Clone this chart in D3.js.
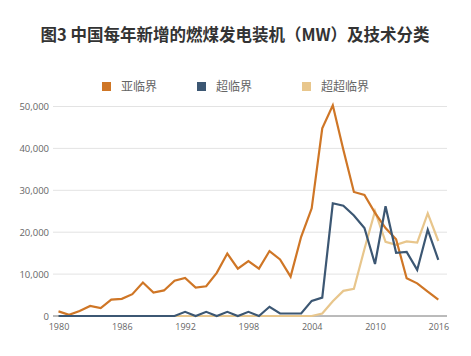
<!DOCTYPE html>
<html><head><meta charset="utf-8">
<script src="https://cdn.jsdelivr.net/npm/d3@7"></script>
<style>
html,body{margin:0;padding:0;background:#fff;}
svg{display:block;}
</style></head>
<body>
<svg id="chart" width="471" height="356"></svg>
<script>
const years = d3.range(1980, 2017);
const subcritical = [1100,300,1200,2400,1900,3900,4100,5200,8000,5600,6100,8400,9100,6800,7100,10300,14900,11300,13100,11300,15500,13500,9400,18900,25700,44800,50300,39700,29600,28900,24600,21000,18300,9000,7800,5800,3900];
const supercritical = [0,0,0,0,0,0,0,0,0,0,0,0,1000,0,1000,0,1000,0,1000,0,2200,600,600,600,3600,4400,26900,26300,24000,21000,12400,26200,15100,15300,11000,20600,13400];
const ultraSupercritical = [0,0,0,0,0,0,0,0,0,0,0,0,0,0,0,0,0,0,0,0,0,0,0,0,0,600,3500,6000,6500,16000,25000,17700,17000,17800,17500,24500,17900];
const seriesNames = ["亚临界","超临界","超超临界"];
const seriesColors = ["#cf7626","#3c5773","#e8c68c"];
const yTicks = [0,10000,20000,30000,40000,50000];
const xTicks = [1980,1986,1992,1998,2004,2010,2016];
const titleText = "图3 中国每年新增的燃煤发电装机（MW）及技术分类";

const svg = d3.select("#chart");
const x = d3.scaleLinear().domain([1980,2016]).range([58.5,438.3]);
const y = d3.scaleLinear().domain([0,50000]).range([316,106.5]);

svg.append("text").attr("x",235).attr("y",41).attr("text-anchor","middle")
  .attr("font-family","'Noto Sans CJK SC', sans-serif").attr("font-weight","bold")
  .attr("font-size",16.5).attr("fill","#333").text(titleText);

// grid
svg.append("g").selectAll("line").data(yTicks.filter(d=>d>0)).join("line")
  .attr("x1",53).attr("x2",447).attr("y1",d=>y(d)).attr("y2",d=>y(d))
  .attr("stroke","#e3e3e3").attr("stroke-width",1);
svg.append("line").attr("x1",53).attr("x2",447).attr("y1",y(0)).attr("y2",y(0))
  .attr("stroke","#777").attr("stroke-width",1);

// y axis
const yAxis = d3.axisLeft(y).tickValues(yTicks).tickSize(0).tickPadding(0).tickFormat(d3.format(","));
const gy = svg.append("g").attr("transform","translate(49,0)").call(yAxis);
gy.select(".domain").remove();
gy.selectAll("text").attr("font-family","'Open Sans', sans-serif").attr("font-size",9.5).attr("fill","#666");

// x axis
const xAxis = d3.axisBottom(x).tickValues(xTicks).tickSize(0).tickPadding(0).tickFormat(d3.format("d"));
const gx = svg.append("g").attr("transform","translate(0,324)").call(xAxis);
gx.select(".domain").remove();
gx.selectAll("text").attr("font-family","'Open Sans', sans-serif").attr("font-size",9).attr("fill","#666");

const line = d3.line().x((d,i)=>x(years[i])).y(d=>y(d));
const drawOrder = [[ultraSupercritical,2],[subcritical,0],[supercritical,1]];
drawOrder.forEach(([arr,ci])=>{
  svg.append("path").datum(arr).attr("d",line).attr("fill","none")
    .attr("stroke",seriesColors[ci]).attr("stroke-width",2.2)
    .attr("stroke-linejoin","miter").attr("stroke-linecap","butt");
});

// legend
const legendX = [102,197,302];
const lg = svg.append("g");
seriesNames.forEach((n,i)=>{
  lg.append("rect").attr("x",legendX[i]).attr("y",82).attr("width",9).attr("height",9).attr("fill",seriesColors[i]);
  lg.append("text").attr("x",legendX[i]+19).attr("y",91).attr("font-family","'Noto Sans CJK SC', sans-serif")
    .attr("font-size",12).attr("fill","#666").text(n);
});
</script>
</body></html>
